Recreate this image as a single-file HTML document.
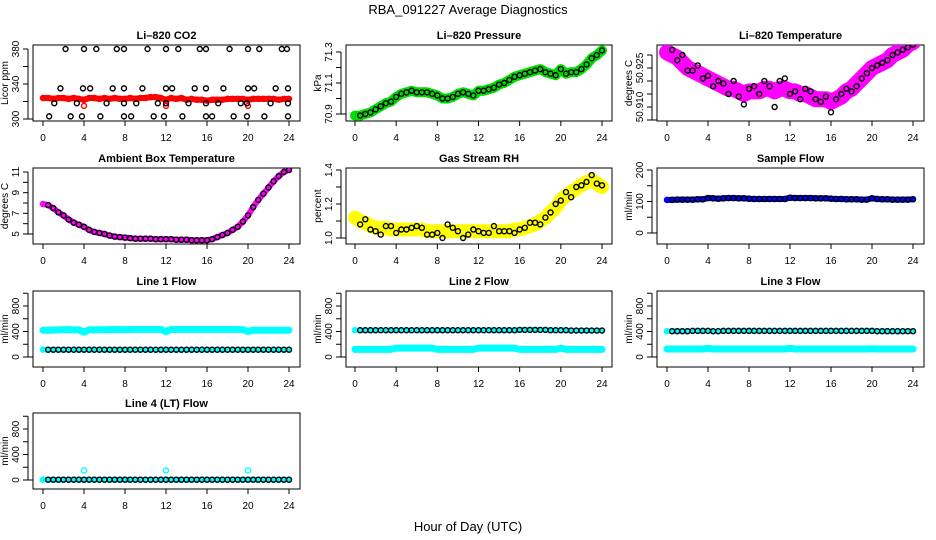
<!DOCTYPE html>
<html><head><meta charset="utf-8"><style>
html,body{margin:0;padding:0;background:#fff;}
svg{display:block;font-family:"Liberation Sans",Arial,sans-serif;}
</style></head><body>
<svg id="fig" width="936" height="540" viewBox="0 0 936 540">
<rect width="936" height="540" fill="#fff"/>
<text x="468" y="14" text-anchor="middle" font-size="13">RBA_091227  Average Diagnostics</text>
<text x="468" y="531" text-anchor="middle" font-size="13">Hour of Day (UTC)</text>
</svg>
<script>
const hours = [0,0.5,1,1.5,2,2.5,3,3.5,4,4.5,5,5.5,6,6.5,7,7.5,8,8.5,9,9.5,10,10.5,11,11.5,12,12.5,13,13.5,14,14.5,15,15.5,16,16.5,17,17.5,18,18.5,19,19.5,20,20.5,21,21.5,22,22.5,23,23.5,24];
const xTicks = [0,4,8,12,16,20,24];

const co2Red = [324,324,323,324,324,323,324,323,322,324,324,323,324,323,324,323,323,324,323,324,324,325,325,324,322,324,323,324,322,323,322,322,321,322,322,322,323,323,323,323,322,323,323,323,323,323,322,323,323];
const co2BlackHours = [2.2,4.0,5.2,7.2,7.9,10.2,12.0,13.2,15.3,15.9,18.2,20.0,21.1,23.3,23.8,1.7,3.9,4.6,6.8,7.9,9.7,12,12.6,14.8,15.9,17.6,20,20.6,22.7,23.9,1.1,3.3,6.2,7.9,9.1,11.2,12,14.2,15.9,17.1,19.3,19.9,22.2,23.9,0.6,2.7,3.8,5.6,7.9,8.6,10.8,11.8,13.6,15.9,16.5,18.6,19.9,21.6,23.9];
const co2BlackValues = [380,380,380,380,380,380,380,380,380,380,380,380,380,380,380,335,335,335,335,335,335,335,335,335,335,335,335,335,335,335,318,318,318,318,318,318,318,318,318,318,318,318,318,318,303,303,303,303,303,303,303,303,303,303,303,303,303,303,303];

const pressure = [70.89,70.89,70.90,70.91,70.93,70.95,70.97,70.98,71.01,71.03,71.04,71.05,71.04,71.04,71.04,71.03,71.02,71.00,71.00,71.01,71.03,71.04,71.03,71.02,71.05,71.05,71.06,71.07,71.09,71.10,71.12,71.14,71.15,71.16,71.17,71.18,71.19,71.17,71.16,71.15,71.19,71.16,71.17,71.17,71.19,71.22,71.26,71.28,71.31];
const liTempBand = [50.931,50.930,50.929,50.927,50.925,50.924,50.923,50.922,50.921,50.920,50.919,50.918,50.917,50.917,50.916,50.915,50.916,50.916,50.916,50.917,50.917,50.916,50.917,50.917,50.916,50.916,50.915,50.915,50.914,50.913,50.913,50.913,50.912,50.913,50.914,50.916,50.917,50.919,50.921,50.923,50.925,50.926,50.927,50.928,50.930,50.931,50.932,50.934,50.935];
const liTemp = [50.931,50.932,50.928,50.930,50.924,50.924,50.926,50.921,50.922,50.918,50.920,50.919,50.915,50.920,50.914,50.911,50.917,50.918,50.915,50.920,50.918,50.910,50.920,50.921,50.915,50.916,50.913,50.917,50.916,50.913,50.912,50.914,50.908,50.913,50.915,50.917,50.916,50.918,50.921,50.923,50.925,50.926,50.927,50.928,50.930,50.931,50.932,50.933,50.934];
const ambient = [7.9,7.8,7.5,7.1,6.8,6.4,6.1,5.9,5.7,5.4,5.2,5.1,5.0,4.85,4.75,4.7,4.65,4.6,4.55,4.55,4.55,4.55,4.5,4.5,4.5,4.5,4.45,4.45,4.45,4.4,4.4,4.4,4.4,4.5,4.7,4.9,5.1,5.4,5.7,6.2,6.8,7.6,8.3,8.9,9.5,10.1,10.6,11.0,11.2];
const rhBand = [1.12,1.10,1.09,1.07,1.06,1.06,1.06,1.05,1.05,1.05,1.05,1.05,1.05,1.05,1.04,1.04,1.04,1.04,1.04,1.04,1.04,1.04,1.04,1.04,1.04,1.04,1.04,1.04,1.04,1.04,1.04,1.05,1.05,1.06,1.07,1.08,1.10,1.12,1.15,1.18,1.22,1.25,1.27,1.29,1.31,1.33,1.34,1.32,1.30];
const rh = [1.10,1.08,1.11,1.05,1.04,1.02,1.07,1.07,1.03,1.05,1.05,1.06,1.07,1.06,1.02,1.02,1.03,1.00,1.08,1.06,1.04,1.00,1.02,1.05,1.04,1.03,1.03,1.07,1.04,1.04,1.04,1.03,1.05,1.06,1.09,1.09,1.08,1.12,1.15,1.20,1.22,1.27,1.24,1.30,1.31,1.33,1.37,1.32,1.31];
const sampleFlow = [105,105,106,106,106,106,107,107,111,110,109,110,111,111,110,110,109,108,108,108,108,108,108,108,112,111,111,111,111,110,110,110,109,108,108,107,107,107,106,106,110,108,107,107,106,106,106,106,107];
const line1Upper = [420,420,422,425,428,430,425,425,390,425,425,428,428,430,432,430,430,430,432,432,432,432,432,432,400,432,432,432,432,432,432,432,432,432,432,432,432,432,432,430,400,420,420,420,420,420,420,420,420];
const line1 = [115,114,114,114,114,114,114,114,114,114,114,114,114,114,114,114,114,114,114,114,114,114,114,114,114,114,114,114,114,114,114,114,114,114,114,114,114,114,114,114,114,114,114,114,114,114,114,114,114];
const line2Lower = [120,120,120,120,120,120,120,120,140,140,140,140,140,140,140,140,120,120,120,120,120,120,120,120,140,140,140,140,140,140,140,140,120,120,120,120,120,120,120,120,140,120,120,120,120,120,120,120,120];
const line2 = [420,420,420,420,420,420,420,420,420,420,420,420,420,420,420,420,420,420,420,420,420,420,420,420,420,420,420,420,420,420,420,420,425,425,425,425,425,425,420,420,420,420,415,415,415,415,415,415,415];
const line3Lower = [125,125,125,125,125,125,125,125,135,125,125,125,125,125,125,125,125,125,125,125,125,125,125,125,135,125,125,125,125,125,125,125,125,125,125,125,125,125,125,125,130,125,125,125,125,125,125,125,125];
const line3 = [405,405,405,405,405,410,410,410,410,405,405,410,410,410,410,410,410,410,410,410,410,410,410,410,410,410,410,410,410,410,410,410,410,410,410,410,410,410,410,410,410,405,405,405,405,405,405,405,405];
const line4 = [5,5,5,5,5,5,5,5,5,5,5,5,5,5,5,5,5,5,5,5,5,5,5,5,5,5,5,5,5,5,5,5,5,5,5,5,5,5,5,5,5,5,5,5,5,5,5,5,5];
const line4OutlierHours = [4,12,20];
const line4Outliers = [150,150,150];

const NS = "http://www.w3.org/2000/svg";
const fig = document.getElementById('fig');
function mk(tag, attrs, parent){ const e=document.createElementNS(NS,tag); for(const k in attrs) e.setAttribute(k,attrs[k]); (parent||fig).appendChild(e); return e; }

function panel(cfg){
  const g = mk('g',{});
  
  
  const xs = h => cfg.x0 + (h/24)*(cfg.x24-cfg.x0);
  const ys = v => cfg.p0 + (v-cfg.v0)/(cfg.v1-cfg.v0)*(cfg.p1-cfg.p0);
  const t = mk('text',{x:(cfg.L+cfg.R)/2,y:cfg.T-6,'text-anchor':'middle','font-size':11,'font-weight':'bold'},g);
  t.textContent = cfg.title;
  
  
  const box = mk('rect',{x:cfg.L,y:cfg.T,width:cfg.R-cfg.L,height:cfg.B-cfg.T,fill:'none',stroke:'#000','stroke-width':1},g);
  
  
  xTicks.forEach(h=>{
    const x=xs(h);
    mk('line',{x1:x,x2:x,y1:cfg.B,y2:cfg.B+5,stroke:'#000'},g);
    const tl = mk('text',{x:x,y:cfg.B+20,'text-anchor':'middle','font-size':10},g);
    tl.textContent = h;
    
    
  });
  mk('line',{x1:cfg.L,x2:cfg.L-5,y1:ys(cfg.ticks[0]),y2:ys(cfg.ticks[0]),stroke:'#000'},g);
  mk('line',{x1:cfg.L-5,x2:cfg.L-5,y1:ys(cfg.ticks[0]),y2:ys(cfg.ticks[cfg.ticks.length-1]),stroke:'#000'},g);
  cfg.ticks.forEach(v=>{ const y=ys(v); mk('line',{x1:cfg.L-5,x2:cfg.L-10,y1:y,y2:y,stroke:'#000'},g); });
  cfg.labels.forEach(v=>{
    const y=ys(v), x=cfg.L-14;
    const tl = mk('text',{x:x,y:y,'text-anchor':'middle','font-size':10,transform:`rotate(-90 ${x} ${y})`},g);
    tl.textContent = cfg.fmt ? cfg.fmt(v) : v;
    
    
  });
  const yt = mk('text',{x:cfg.L-25,y:(cfg.T+cfg.B)/2,'text-anchor':'middle','font-size':10,transform:`rotate(-90 ${cfg.L-25} ${(cfg.T+cfg.B)/2})`},g);
  yt.textContent = cfg.ylab;
  
  
  const clip = 'c'+cfg.name;
  const cp = mk('clipPath',{id:clip},g); mk('rect',{x:cfg.L,y:cfg.T,width:cfg.R-cfg.L,height:cfg.B-cfg.T},cp);
  const pg = mk('g',{'clip-path':`url(#${clip})`},g);
  return {g:pg, xs, ys};
}
function band(p, xArr, vals, color, w, name){
  const pts = vals.map((v,i)=>p.xs(xArr[i]).toFixed(1)+','+p.ys(v).toFixed(1)).join(' ');
  const pl = mk('polyline',{points:pts,fill:'none',stroke:color,'stroke-width':w,'stroke-linejoin':'round','stroke-linecap':'round'},p.g);
  
  
  vals.forEach((v,i)=>{ const c = mk('circle',{cx:p.xs(xArr[i]),cy:p.ys(v),r:2.6,fill:'none',stroke:color,'stroke-width':1.3},p.g);
    
     });
}
function pts(p, xArr, vals, color, name, skipFirst){
  vals.forEach((v,i)=>{ if(skipFirst && i===0) return;
    const c = mk('circle',{cx:p.xs(xArr[i]),cy:p.ys(v),r:2.5,fill:'none',stroke:color,'stroke-width':1.4},p.g);
    
     });
}
const C1={L:33,R:300,x0:43,x24:289}, C2={L:346,R:612,x0:355,x24:602}, C3={L:657,R:924,x0:667,x24:913};
const R1={T:45,B:121}, R2={T:168,B:244}, R3={T:291,B:367}, R4={T:413,B:489};
const flowTicks=[0,200,400,600,800,1000], flowLabels=[0,400,800];

let p = panel({...C1,...R1,name:'co2-panel',title:'Li–820 CO2',ylab:'Licor ppm',v0:300,p0:119,v1:380,p1:49,ticks:[300,320,340,360,380],labels:[300,340,380]});
band(p, hours, co2Red, '#ff0000', 6, 'co2-average');
pts(p, [4,12,20], [315,315,315], '#ff0000', 'co2-outlier');
pts(p, co2BlackHours, co2BlackValues, '#000', 'co2-sample');

p = panel({...C2,...R1,name:'pressure-panel',title:'Li–820 Pressure',ylab:'kPa',v0:70.9,p0:114,v1:71.3,p1:52,ticks:[70.9,71.0,71.1,71.2,71.3],labels:[70.9,71.1,71.3],fmt:v=>v.toFixed(1)});
band(p, hours, pressure, '#00dd00', 10, 'pressure-average');
pts(p, hours, pressure, '#000', 'pressure-sample', true);

p = panel({...C3,...R1,name:'li-temp-panel',title:'Li–820 Temperature',ylab:'degrees C',v0:50.910,p0:107,v1:50.925,p1:68,ticks:[50.905,50.910,50.915,50.920,50.925,50.930],labels:[50.910,50.925],fmt:v=>v.toFixed(3)});
band(p, hours, liTempBand, '#ff00ff', 16, 'li-temp-average');
pts(p, hours, liTemp, '#000', 'li-temp-sample', true);

p = panel({...C1,...R2,name:'ambient-panel',title:'Ambient Box Temperature',ylab:'degrees C',v0:5,p0:234,v1:11,p1:172,ticks:[5,6,7,8,9,10,11],labels:[5,7,9,11]});
band(p, hours, ambient, '#ff00ff', 6, 'ambient-average');
pts(p, hours, ambient, '#000', 'ambient-sample', true);

p = panel({...C2,...R2,name:'rh-panel',title:'Gas Stream RH',ylab:'percent',v0:1.0,p0:238,v1:1.4,p1:170,ticks:[1.0,1.1,1.2,1.3,1.4],labels:[1.0,1.2,1.4],fmt:v=>v.toFixed(1)});
band(p, hours, rhBand, '#ffff00', 14, 'rh-average');
pts(p, hours, rh, '#000', 'rh-sample', true);

p = panel({...C3,...R2,name:'sample-flow-panel',title:'Sample Flow',ylab:'ml/min',v0:0,p0:233,v1:200,p1:170,ticks:[0,50,100,150,200],labels:[0,100,200]});
band(p, hours, sampleFlow, '#0000ff', 6, 'sample-flow-average');
pts(p, hours, sampleFlow, '#000', 'sample-flow-sample', true);

p = panel({...C1,...R3,name:'line1-panel',title:'Line 1 Flow',ylab:'ml/min',v0:0,p0:357,v1:800,p1:306,ticks:flowTicks,labels:flowLabels});
band(p, hours, line1Upper, '#00ffff', 7, 'line1-upper');
band(p, hours, line1, '#00ffff', 5, 'line1-average');
pts(p, hours, line1, '#000', 'line1-sample', true);

p = panel({...C2,...R3,name:'line2-panel',title:'Line 2 Flow',ylab:'ml/min',v0:0,p0:357,v1:800,p1:306,ticks:flowTicks,labels:flowLabels});
band(p, hours, line2Lower, '#00ffff', 7, 'line2-lower');
band(p, hours, line2, '#00ffff', 5, 'line2-average');
pts(p, hours, line2, '#000', 'line2-sample', true);

p = panel({...C3,...R3,name:'line3-panel',title:'Line 3 Flow',ylab:'ml/min',v0:0,p0:357,v1:800,p1:306,ticks:flowTicks,labels:flowLabels});
band(p, hours, line3Lower, '#00ffff', 7, 'line3-lower');
band(p, hours, line3, '#00ffff', 5, 'line3-average');
pts(p, hours, line3, '#000', 'line3-sample', true);

p = panel({...C1,...R4,name:'line4-panel',title:'Line 4 (LT) Flow',ylab:'ml/min',v0:0,p0:480,v1:800,p1:429,ticks:flowTicks,labels:flowLabels});
band(p, hours, line4, '#00ffff', 5, 'line4-average');
pts(p, line4OutlierHours, line4Outliers, '#00ffff', 'line4-outlier');
pts(p, hours, line4, '#000', 'line4-sample', true);
</script>
</body></html>
